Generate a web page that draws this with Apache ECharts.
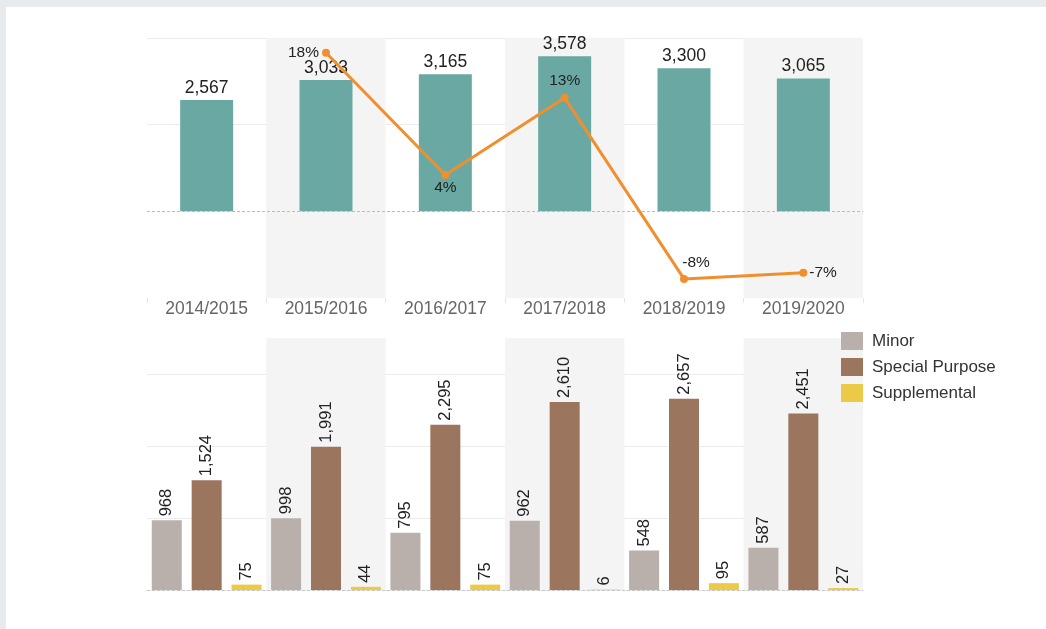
<!DOCTYPE html>
<html>
<head>
<meta charset="utf-8">
<script src="https://cdn.jsdelivr.net/npm/echarts@6/dist/echarts.min.js"></script>
<style>
  html, body { margin: 0; padding: 0; width: 1046px; height: 629px; background: #e7ebee; overflow: hidden; }
  #card { position: absolute; left: 6px; top: 7px; width: 1040px; height: 622px; background: #ffffff; }
  #chart { position: absolute; left: 0; top: 0; width: 1046px; height: 629px; }
</style>
</head>
<body>
<div id="card"></div>
<div id="chart"></div>
<script>
const categories = ['2014/2015', '2015/2016', '2016/2017', '2017/2018', '2018/2019', '2019/2020'];
const totals = [2567, 3033, 3165, 3578, 3300, 3065];
const changePct = [null, 18.3, 4.2, 13.1, -7.8, -7.1];
const minor = [968, 998, 795, 962, 548, 587];
const specialPurpose = [1524, 1991, 2295, 2610, 2657, 2451];
const supplemental = [75, 44, 75, 6, 95, 27];
const seriesNames = ['Minor', 'Special Purpose', 'Supplemental'];

const pctLabelStyles = [
  { position: 'left' },
  { position: 'left', distance: 3 },
  { position: 'bottom', distance: 1 },
  { position: 'top', distance: 5 },
  { position: 'top', distance: 4, offset: [12, 0] },
  { position: 'right', distance: 2 }
];
const FONT = 'Liberation Sans, Arial, Helvetica, sans-serif';

const chart = echarts.init(document.getElementById('chart'), null, { renderer: 'canvas' });

const fmt = v => v.toLocaleString('en-US');

const bandArea = { show: true, areaStyle: { color: ['rgba(255,255,255,0)', '#f4f4f4'] } };

const option = {
  backgroundColor: 'transparent',
  animation: false,
  textStyle: { fontFamily: FONT },
  legend: {
    data: seriesNames,
    orient: 'vertical',
    left: 841,
    top: 332,
    padding: 0,
    icon: 'rect',
    itemWidth: 22,
    itemHeight: 18,
    itemGap: 8,
    textStyle: { fontSize: 17, color: '#333', fontFamily: FONT, padding: [0, 0, 0, 4] }
  },
  grid: [
    { left: 147, right: 183, top: 38, height: 260 },
    { left: 147, right: 183, top: 338, height: 252 }
  ],
  xAxis: [
    {
      type: 'category', gridIndex: 0, data: categories, position: 'bottom',
      axisLine: { show: false, onZero: false },
      axisTick: { show: true, length: 5, lineStyle: { color: '#e4e4e4' } },
      axisLabel: { color: '#666', fontSize: 17.5, margin: 2, fontFamily: FONT },
      splitArea: bandArea,
      splitLine: { show: false }
    },
    {
      type: 'category', gridIndex: 1, data: categories,
      axisLine: { show: true, lineStyle: { color: '#c8c8c8', type: [3, 2] } },
      axisTick: { show: false },
      axisLabel: { show: false },
      splitArea: bandArea,
      splitLine: { show: false }
    }
  ],
  yAxis: [
    {
      type: 'value', gridIndex: 0, min: -2000, max: 4000, interval: 2000,
      axisLabel: { show: false }, axisLine: { show: false }, axisTick: { show: false },
      splitLine: { show: true, lineStyle: { color: ['rgba(0,0,0,0)', 'rgba(0,0,0,0)', '#ececec', '#ececec'] } }
    },
    {
      type: 'value', gridIndex: 0, min: -10, max: 20, interval: 10,
      axisLabel: { show: false }, axisLine: { show: false }, axisTick: { show: false },
      splitLine: { show: false }
    },
    {
      type: 'value', gridIndex: 1, min: 0, max: 3500, interval: 1000,
      axisLabel: { show: false }, axisLine: { show: false }, axisTick: { show: false },
      splitLine: { show: true, lineStyle: { color: ['rgba(0,0,0,0)', '#ececec', '#ececec', '#ececec', 'rgba(0,0,0,0)'] } }
    }
  ],
  series: [
    {
      name: 'Total', type: 'bar', xAxisIndex: 0, yAxisIndex: 0,
      data: totals, barWidth: 53,
      itemStyle: { color: '#6aa9a3' },
      label: { show: true, position: 'top', distance: 3, color: '#222', fontSize: 17.5, fontFamily: FONT, formatter: p => fmt(p.value) },
      markLine: {
        silent: true, symbol: 'none', label: { show: false },
        lineStyle: { color: '#bdbdbd', type: [3, 2], width: 1 },
        data: [{ yAxis: 0 }]
      },
      z: 2
    },
    {
      name: 'Change', type: 'line', xAxisIndex: 0, yAxisIndex: 1,
      data: changePct.map((v, i) => ({ value: v, label: pctLabelStyles[i] })),
      connectNulls: false,
      symbol: 'circle', symbolSize: 8,
      lineStyle: { color: '#f08f2e', width: 3 },
      itemStyle: { color: '#f08f2e' },
      label: { show: true, color: '#222', fontSize: 15.5, fontFamily: FONT, distance: 6, formatter: p => Math.round(p.value) + '%' },
      z: 5
    },
    {
      name: seriesNames[0], type: 'bar', xAxisIndex: 1, yAxisIndex: 2,
      data: minor, barWidth: 30, barGap: '33%',
      itemStyle: { color: '#bab0ab' },
      label: { show: true, position: 'top', rotate: 90, align: 'left', verticalAlign: 'middle', distance: 4, color: '#222', fontSize: 16.5, fontFamily: FONT, formatter: p => fmt(p.value) }
    },
    {
      name: seriesNames[1], type: 'bar', xAxisIndex: 1, yAxisIndex: 2,
      data: specialPurpose, barWidth: 30, barGap: '33%',
      itemStyle: { color: '#9c755f' },
      label: { show: true, position: 'top', rotate: 90, align: 'left', verticalAlign: 'middle', distance: 4, color: '#222', fontSize: 16.5, fontFamily: FONT, formatter: p => fmt(p.value) }
    },
    {
      name: seriesNames[2], type: 'bar', xAxisIndex: 1, yAxisIndex: 2,
      data: supplemental, barWidth: 30, barGap: '33%',
      itemStyle: { color: '#edc948' },
      label: { show: true, position: 'top', rotate: 90, align: 'left', verticalAlign: 'middle', distance: 4, color: '#222', fontSize: 16.5, fontFamily: FONT, formatter: p => fmt(p.value) }
    }
  ]
};

chart.setOption(option);
</script>
</body>
</html>
